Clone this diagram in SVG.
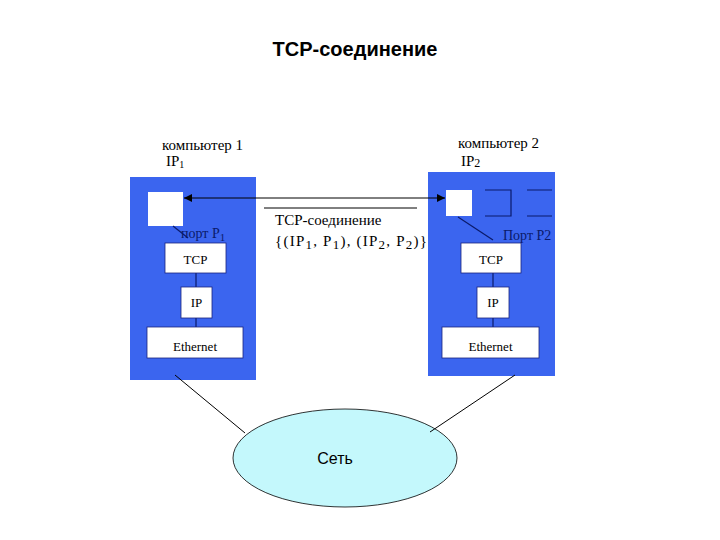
<svg xmlns="http://www.w3.org/2000/svg" width="720" height="540" viewBox="0 0 720 540">
<style>
.comp{fill:#3b65ef;}
.box{fill:#ffffff;stroke:#1a237e;stroke-width:0.8;}
.t{font-family:"Liberation Serif",serif;font-size:13px;fill:#000;}
.lbl{font-family:"Liberation Serif",serif;font-size:15px;fill:#000;}
.port{font-family:"Liberation Serif",serif;font-size:14px;fill:#0a1a6a;}
.ln{stroke:#000;stroke-width:1;fill:none;}
.dk{stroke:#0a1a6a;stroke-width:1.2;fill:none;}
</style>
<defs>
<marker id="ah" viewBox="0 0 10 10" refX="10" refY="5" markerWidth="10" markerHeight="8" orient="auto-start-reverse" markerUnits="userSpaceOnUse">
<path d="M0,0 L10,5 L0,10 z" fill="#000"/>
</marker>
</defs>
<rect width="720" height="540" fill="#fff"/>
<text x="355" y="56" text-anchor="middle" font-family="Liberation Sans,Arial,sans-serif" font-weight="bold" font-size="20" fill="#000">TCP-соединение</text>

<g id="computer1">
<rect class="comp" x="130" y="177" width="126" height="203"/>
<text class="lbl" x="162" y="150">компьютер 1</text>
<text class="lbl" x="166" y="166" font-size="12">IP<tspan font-size="10" dy="2">1</tspan></text>
<rect x="148" y="192" width="35" height="34" fill="#fff"/>
<line class="dk" x1="173" y1="226" x2="188" y2="238"/>
<text class="port" x="181" y="238">порт P<tspan font-size="11" dy="3">1</tspan></text>
<line class="dk" x1="196" y1="273" x2="196" y2="287"/>
<line class="dk" x1="196" y1="318" x2="196" y2="327"/>
<g id="tcp1"><rect class="box" x="165" y="243" width="61" height="30"/><text class="t" x="195.5" y="264" text-anchor="middle">TCP</text></g>
<g id="ip1"><rect class="box" x="181" y="287" width="31" height="31"/><text class="t" x="196.5" y="307" text-anchor="middle">IP</text></g>
<g id="eth1"><rect class="box" x="147" y="327" width="96" height="31"/><text class="t" x="195" y="351" text-anchor="middle">Ethernet</text></g>
</g>

<g id="computer2">
<rect class="comp" x="428" y="172" width="127" height="204"/>
<text class="lbl" x="458" y="148">компьютер 2</text>
<text class="lbl" x="461" y="166" font-size="12">IP<tspan font-size="12" dy="1">2</tspan></text>
<rect x="446" y="190" width="26" height="26" fill="#fff"/>
<path class="dk" d="M485,190 H511 V216 H485 M527,190 H552 M527,216 H552"/>
<line class="dk" x1="458" y1="217" x2="493" y2="240"/>
<text class="port" x="503" y="240" font-size="13.5">Порт P2</text>
<line class="dk" x1="493" y1="273" x2="493" y2="287"/>
<line class="dk" x1="493" y1="318" x2="493" y2="327"/>
<g id="tcp2"><rect class="box" x="461" y="243" width="60" height="30"/><text class="t" x="491" y="264" text-anchor="middle">TCP</text></g>
<g id="ip2"><rect class="box" x="477" y="287" width="32" height="31"/><text class="t" x="493" y="307" text-anchor="middle">IP</text></g>
<g id="eth2"><rect class="box" x="442" y="327" width="97" height="31"/><text class="t" x="490.5" y="351" text-anchor="middle">Ethernet</text></g>
</g>

<g id="network">
<ellipse cx="345" cy="458" rx="112" ry="49" fill="#c4f8fc" stroke="#000" stroke-width="0.8"/>
<text x="335" y="464" text-anchor="middle" font-family="Liberation Sans,Arial,sans-serif" font-size="16" fill="#000">Сеть</text>
</g>

<g id="connectors">
<line class="ln" x1="184" y1="198" x2="445" y2="198" marker-start="url(#ah)" marker-end="url(#ah)"/>
<line class="ln" x1="264" y1="208" x2="417" y2="208"/>
<line class="ln" x1="175" y1="375" x2="245" y2="433" stroke-width="0.8"/>
<line class="ln" x1="515" y1="375" x2="430" y2="432" stroke-width="0.8"/>
</g>

<g id="conn-label">
<text class="lbl" x="275" y="225" font-size="15.5">TCP-соединение</text>
<text class="lbl" x="275" y="246" font-size="16" textLength="152" lengthAdjust="spacing">{(IP<tspan font-size="13" dy="3">1</tspan><tspan dy="-3">, P</tspan><tspan font-size="13" dy="3">1</tspan><tspan dy="-3">), (IP</tspan><tspan font-size="13" dy="3">2</tspan><tspan dy="-3">, P</tspan><tspan font-size="13" dy="3">2</tspan><tspan dy="-3">)}</tspan></text>
</g>
</svg>
